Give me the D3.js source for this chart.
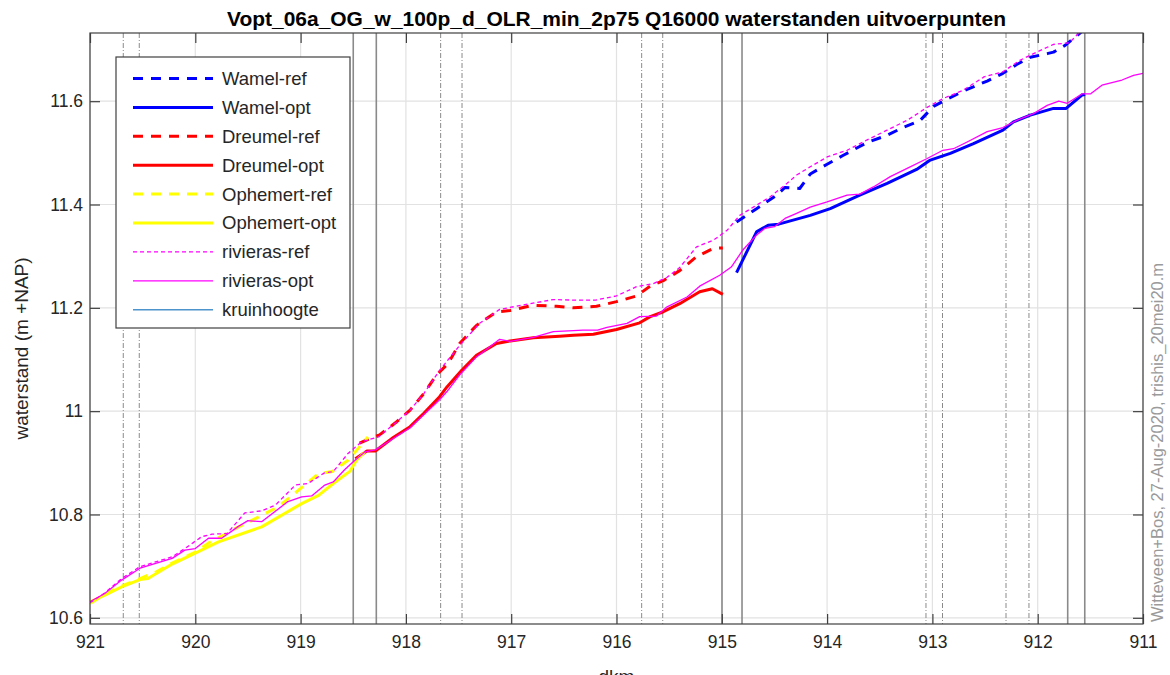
<!DOCTYPE html>
<html><head><meta charset="utf-8">
<script src="https://cdn.jsdelivr.net/npm/d3@7"></script>
<style>
html,body{margin:0;padding:0;background:#fff;}
svg{display:block;font-family:"Liberation Sans",Arial,Helvetica,sans-serif;}
</style></head>
<body>
<svg id="chart" width="1170" height="675"></svg>
<script>
// ---------- data ----------
const titleText = "Vopt_06a_OG_w_100p_d_OLR_min_2p75 Q16000 waterstanden uitvoerpunten";
const xLabel = "dkm";
const yLabel = "waterstand (m +NAP)";
const sideNote = "Witteveen+Bos, 27-Aug-2020, trishis_20mei20.m";

const xTicks = [921, 920, 919, 918, 917, 916, 915, 914, 913, 912, 911];
const yTicks = [10.6, 10.8, 11.0, 11.2, 11.4, 11.6];
const yTickLabels = ["10.6", "10.8", "11", "11.2", "11.4", "11.6"];

const wamelRefKm = [914.86, 914.67, 914.48, 914.40, 914.26, 914.16, 914.00, 913.85, 913.62, 913.43, 913.28, 913.12, 912.99, 912.86, 912.67, 912.48, 912.33, 912.20, 912.07, 911.91, 911.85, 911.74, 911.58, 911.52];
const wamelRefWl = [11.366, 11.392, 11.418, 11.433, 11.431, 11.459, 11.478, 11.495, 11.520, 11.534, 11.549, 11.562, 11.590, 11.604, 11.623, 11.639, 11.654, 11.671, 11.685, 11.692, 11.695, 11.708, 11.735, 11.745];

const wamelOptKm = [914.86, 914.67, 914.56, 914.46, 914.16, 913.97, 913.69, 913.43, 913.15, 913.02, 912.83, 912.61, 912.33, 912.23, 912.07, 911.85, 911.73, 911.58, 911.55];
const wamelOptWl = [11.268, 11.347, 11.360, 11.362, 11.379, 11.392, 11.418, 11.441, 11.468, 11.486, 11.499, 11.518, 11.544, 11.560, 11.573, 11.586, 11.586, 11.612, 11.613];

const dreumelRefKm = [918.44, 918.34, 918.25, 918.09, 917.96, 917.83, 917.71, 917.60, 917.49, 917.33, 917.14, 917.01, 916.79, 916.57, 916.41, 916.19, 916.00, 915.81, 915.68, 915.56, 915.40, 915.24, 915.08, 914.99];
const dreumelRefWl = [10.938, 10.947, 10.954, 10.979, 11.002, 11.034, 11.070, 11.092, 11.131, 11.166, 11.192, 11.195, 11.205, 11.203, 11.200, 11.203, 11.212, 11.223, 11.242, 11.252, 11.272, 11.299, 11.315, 11.316];

const dreumelOptKm = [918.48, 918.37, 918.29, 918.12, 917.96, 917.83, 917.68, 917.61, 917.47, 917.33, 917.14, 917.01, 916.79, 916.54, 916.41, 916.22, 916.00, 915.78, 915.68, 915.56, 915.40, 915.21, 915.09, 914.99];
const dreumelOptWl = [10.908, 10.923, 10.923, 10.949, 10.970, 10.996, 11.028, 11.047, 11.079, 11.108, 11.131, 11.136, 11.142, 11.145, 11.147, 11.149, 11.158, 11.171, 11.183, 11.192, 11.208, 11.231, 11.237, 11.226];

const ophemertRefKm = [921.00, 920.90, 920.78, 920.68, 920.525, 920.37, 920.22, 920.00, 919.88, 919.59, 919.43, 919.21, 919.02, 918.83, 918.70, 918.55, 918.36];
const ophemertRefWl = [10.628, 10.640, 10.654, 10.663, 10.676, 10.689, 10.706, 10.727, 10.744, 10.776, 10.792, 10.815, 10.847, 10.879, 10.883, 10.905, 10.950];

const ophemertOptKm = [921.00, 920.85, 920.70, 920.525, 920.45, 920.22, 920.00, 919.78, 919.37, 918.99, 918.83, 918.69, 918.53, 918.47, 918.39];
const ophemertOptWl = [10.631, 10.645, 10.660, 10.674, 10.676, 10.704, 10.725, 10.747, 10.776, 10.821, 10.837, 10.860, 10.884, 10.905, 10.921];

const rivRefKm = [921.00, 920.86, 920.70, 920.525, 920.22, 920.10, 919.94, 919.84, 919.70, 919.53, 919.37, 919.24, 919.05, 918.93, 918.77, 918.69, 918.55, 918.42, 918.26, 918.09, 917.96, 917.83, 917.68, 917.49, 917.30, 917.11, 916.90, 916.60, 916.41, 916.20, 916.00, 915.81, 915.65, 915.52, 915.40, 915.24, 915.08, 914.95, 914.83, 914.70, 914.54, 914.38, 914.29, 914.16, 914.00, 913.81, 913.62, 913.43, 913.24, 913.05, 912.90, 912.71, 912.51, 912.33, 912.17, 912.01, 911.85, 911.70, 911.58, 911.52];
const rivRefWl = [10.629, 10.648, 10.676, 10.699, 10.718, 10.734, 10.757, 10.762, 10.763, 10.803, 10.807, 10.818, 10.857, 10.860, 10.881, 10.883, 10.918, 10.941, 10.950, 10.979, 11.002, 11.034, 11.079, 11.127, 11.170, 11.197, 11.205, 11.216, 11.215, 11.215, 11.223, 11.241, 11.247, 11.259, 11.278, 11.318, 11.331, 11.350, 11.379, 11.395, 11.415, 11.441, 11.457, 11.473, 11.492, 11.505, 11.525, 11.544, 11.563, 11.588, 11.605, 11.621, 11.647, 11.657, 11.679, 11.695, 11.710, 11.713, 11.738, 11.750];

const rivOptKm = [921.00, 920.86, 920.70, 920.525, 920.22, 920.10, 920.00, 919.875, 919.75, 919.59, 919.50, 919.37, 919.12, 918.99, 918.895, 918.77, 918.69, 918.58, 918.50, 918.39, 918.29, 918.12, 917.96, 917.83, 917.68, 917.61, 917.49, 917.33, 917.11, 917.01, 916.79, 916.60, 916.41, 916.32, 916.18, 916.09, 915.90, 915.78, 915.62, 915.52, 915.33, 915.21, 915.02, 914.91, 914.80, 914.67, 914.59, 914.50, 914.40, 914.29, 914.16, 914.00, 913.81, 913.69, 913.56, 913.40, 913.24, 913.05, 912.90, 912.80, 912.67, 912.48, 912.33, 912.20, 912.04, 911.91, 911.80, 911.72, 911.58, 911.50, 911.39, 911.20, 911.09, 911.00];
const rivOptWl = [10.631, 10.647, 10.673, 10.696, 10.715, 10.731, 10.734, 10.754, 10.754, 10.777, 10.788, 10.786, 10.825, 10.834, 10.836, 10.857, 10.863, 10.887, 10.902, 10.921, 10.925, 10.947, 10.968, 10.993, 11.022, 11.038, 11.070, 11.105, 11.139, 11.135, 11.143, 11.154, 11.156, 11.157, 11.157, 11.162, 11.170, 11.183, 11.184, 11.202, 11.221, 11.242, 11.263, 11.279, 11.312, 11.341, 11.354, 11.357, 11.373, 11.383, 11.395, 11.405, 11.418, 11.420, 11.434, 11.454, 11.470, 11.489, 11.505, 11.508, 11.521, 11.541, 11.549, 11.563, 11.576, 11.592, 11.600, 11.596, 11.614, 11.614, 11.631, 11.641, 11.650, 11.654];

// kruinhoogte (crest level) lies above the visible range: only in the legend
const kruinKm = [];
const kruinWl = [];

// marker lines (km)
const solidMarkersKm = [918.50, 918.281, 914.998, 914.808, 911.715, 911.553];
const dashDotMarkersKm = [920.684, 920.532, 917.670, 917.467, 915.761, 915.561, 913.061, 912.904, 912.301, 912.083];

const seriesNames = ["Wamel-ref", "Wamel-opt", "Dreumel-ref", "Dreumel-opt", "Ophemert-ref", "Ophemert-opt", "rivieras-ref", "rivieras-opt", "kruinhoogte"];

// ---------- layout / style ----------
const W = 1170, H = 675;
const L = 90, R = 1143, T = 33, B = 624;
const styles = {
  "Wamel-ref":    {color: "#0000ff", width: 3,   dash: "10,8"},
  "Wamel-opt":    {color: "#0000ff", width: 3,   dash: null},
  "Dreumel-ref":  {color: "#ff0000", width: 3,   dash: "10,8"},
  "Dreumel-opt":  {color: "#ff0000", width: 3,   dash: null},
  "Ophemert-ref": {color: "#ffff00", width: 3,   dash: "10,8"},
  "Ophemert-opt": {color: "#ffff00", width: 3,   dash: null},
  "rivieras-ref": {color: "#ff00ff", width: 1.3, dash: "4,3"},
  "rivieras-opt": {color: "#ff00ff", width: 1.3, dash: null},
  "kruinhoogte":  {color: "#4d94cc", width: 1.5, dash: null}
};
const seriesData = {
  "Wamel-ref": [wamelRefKm, wamelRefWl],
  "Wamel-opt": [wamelOptKm, wamelOptWl],
  "Dreumel-ref": [dreumelRefKm, dreumelRefWl],
  "Dreumel-opt": [dreumelOptKm, dreumelOptWl],
  "Ophemert-ref": [ophemertRefKm, ophemertRefWl],
  "Ophemert-opt": [ophemertOptKm, ophemertOptWl],
  "rivieras-ref": [rivRefKm, rivRefWl],
  "rivieras-opt": [rivOptKm, rivOptWl],
  "kruinhoogte": [kruinKm, kruinWl]
};

const svg = d3.select("#chart");
const x = d3.scaleLinear().domain([921, 911]).range([L, R]);
const y = d3.scaleLinear().domain([10.588, 11.732]).range([B, T]);

svg.append("defs").append("clipPath").attr("id", "clip")
  .append("rect").attr("x", L).attr("y", T).attr("width", R - L).attr("height", B - T);

// grid
const grid = svg.append("g");
grid.selectAll("line.gx").data(xTicks).join("line")
  .attr("x1", d => x(d)).attr("x2", d => x(d)).attr("y1", T).attr("y2", B)
  .attr("stroke", "#e2e2e2").attr("stroke-width", 1.2);
grid.selectAll("line.gy").data(yTicks).join("line")
  .attr("y1", d => y(d)).attr("y2", d => y(d)).attr("x1", L).attr("x2", R)
  .attr("stroke", "#e2e2e2").attr("stroke-width", 1.2);

// marker lines
const plot = svg.append("g").attr("clip-path", "url(#clip)");
plot.selectAll("line.solidm").data(solidMarkersKm).join("line")
  .attr("x1", d => x(d)).attr("x2", d => x(d)).attr("y1", T).attr("y2", B)
  .attr("stroke", "#8a8a8a").attr("stroke-width", 1.6);
plot.selectAll("line.ddm").data(dashDotMarkersKm).join("line")
  .attr("x1", d => x(d)).attr("x2", d => x(d)).attr("y1", T).attr("y2", B)
  .attr("stroke", "#8a8a8a").attr("stroke-width", 1).attr("stroke-dasharray", "5,2,1,2");

// series lines
const line = d3.line().x(d => x(d[0])).y(d => y(d[1]));
seriesNames.forEach(name => {
  const [km, wl] = seriesData[name];
  if (!km.length) return;
  const pts = km.map((k, i) => [k, wl[i]]);
  const st = styles[name];
  plot.append("path").datum(pts).attr("d", line)
    .attr("fill", "none").attr("stroke", st.color).attr("stroke-width", st.width)
    .attr("stroke-linejoin", "round")
    .attr("stroke-dasharray", st.dash);
});

// axes
const axCol = "#404040";
const fs = 17.5;
const gx = svg.append("g").attr("transform", `translate(0,${B})`)
  .call(d3.axisBottom(x).tickValues(xTicks).tickFormat(d3.format("d")).tickSizeInner(-10).tickSizeOuter(0).tickPadding(12));
const gxt = svg.append("g").attr("transform", `translate(0,${T})`)
  .call(d3.axisTop(x).tickValues(xTicks).tickFormat("").tickSizeInner(-10).tickSizeOuter(0));
const gy = svg.append("g").attr("transform", `translate(${L},0)`)
  .call(d3.axisLeft(y).tickValues(yTicks).tickFormat((d, i) => yTickLabels[i]).tickSizeInner(-10).tickSizeOuter(0).tickPadding(7));
const gyr = svg.append("g").attr("transform", `translate(${R},0)`)
  .call(d3.axisRight(y).tickValues(yTicks).tickFormat("").tickSizeInner(-10).tickSizeOuter(0));
[gx, gxt, gy, gyr].forEach(g => {
  g.select(".domain").remove();
  g.selectAll("line").attr("stroke", axCol).attr("stroke-width", 1.2);
  g.selectAll("text").attr("fill", "#262626").attr("font-size", fs).attr("font-family", "'Liberation Sans',Arial,sans-serif");
});
svg.append("rect").attr("x", L).attr("y", T).attr("width", R - L).attr("height", B - T)
  .attr("fill", "none").attr("stroke", axCol).attr("stroke-width", 1.2);

// title & labels
svg.append("text").attr("x", (L + R) / 2).attr("y", 26).attr("text-anchor", "middle")
  .attr("font-size", 20).attr("font-weight", "bold").attr("fill", "#000")
  .attr("textLength", 779).attr("lengthAdjust", "spacingAndGlyphs").text(titleText);
svg.append("text").attr("x", (L + R) / 2).attr("y", 683).attr("text-anchor", "middle")
  .attr("font-size", 19).attr("fill", "#262626").text(xLabel);
svg.append("text").attr("transform", `translate(28,${(T + B) / 2 + 20}) rotate(-90)`).attr("text-anchor", "middle")
  .attr("font-size", 19).attr("fill", "#262626").text(yLabel);
svg.append("text").attr("transform", `translate(1163,622) rotate(-90)`).attr("text-anchor", "start")
  .attr("font-size", 16.5).attr("fill", "#9a9a9a").text(sideNote);

// legend
const lg = svg.append("g");
lg.append("rect").attr("x", 116).attr("y", 57).attr("width", 234).attr("height", 271)
  .attr("fill", "#fff").attr("stroke", axCol).attr("stroke-width", 1.2);
seriesNames.forEach((name, i) => {
  const yy = 78.5 + i * 28.9;
  const st = styles[name];
  lg.append("line").attr("x1", 133).attr("x2", 213).attr("y1", yy).attr("y2", yy)
    .attr("stroke", st.color).attr("stroke-width", st.width).attr("stroke-dasharray", st.dash);
  lg.append("text").attr("x", 222).attr("y", yy).attr("dy", "0.35em")
    .attr("font-size", 18.5).attr("fill", "#262626").text(name);
});
</script>
</body></html>
